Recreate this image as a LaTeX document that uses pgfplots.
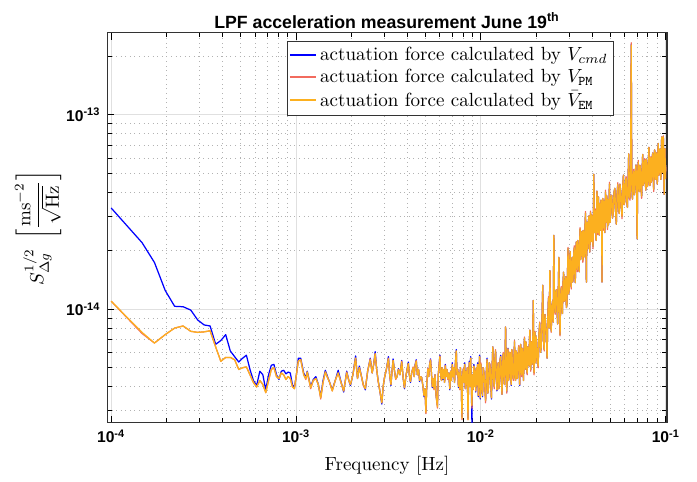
\documentclass[border=0pt]{standalone}
\usepackage{fontspec}
\setsansfont{Liberation Sans}
\usepackage{pgfplots}
\usepackage{pgfplotstable}
\pgfplotsset{compat=1.18}
\definecolor{mblue}{rgb}{0,0,1}
\definecolor{mred}{rgb}{0.95,0.42,0.37}
\definecolor{morange}{rgb}{0.99,0.69,0.12}
% values in units of 1e-15 m s^-2 / sqrt(Hz)
\pgfplotstableread{
f b r o
1.00e-4 33.2 11.0 11.0
1.47e-4 22.0 7.5 7.6
1.715e-4 17.4 6.7 6.7
1.96e-4 12.5 7.4 7.4
2.205e-4 10.35 8.0 8.0
2.45e-4 10.3 8.2 8.2
2.695e-4 9.9 7.7 7.7
2.94e-4 8.8 7.6 7.6
3.185e-4 8.3 7.65 7.65
3.43e-4 8.2 7.75 7.75
3.675e-4 6.6 6.4 6.4
3.92e-4 6.9 5.4 5.4
4.165e-4 7.4 5.65 5.65
4.41e-4 6.1 5.65 5.65
4.655e-4 5.7 5.5 5.5
4.9e-4 5.35 4.9 4.9
5.145e-4 5.6 5.0 5.0
5.39e-4 5.8 5.05 5.05
5.635e-4 4.9 4.6 4.6
5.88e-4 4.3 4.2 4.2
6.125e-4 4.05 3.98 3.98
6.37e-4 4.8 4.3 4.3
6.615e-4 4.6 4.1 4.1
6.86e-4 3.85 3.72 3.72
7.105e-4 4.6 4.3 4.3
7.35e-4 5.15 4.9 4.9
7.595e-4 5.2 5.0 5.0
7.84e-4 4.6 4.5 4.5
8.085e-4 4.35 4.4 4.4
8.33e-4 4.8 4.7 4.7
8.575e-4 4.85 4.6 4.6
8.82e-4 4.65 4.35 4.35
9.065e-4 4.75 4.5 4.5
9.31e-4 4.7 4.4 4.4
9.555e-4 4.1 4.0 4.0
9.8e-4 3.95 3.9 3.9
1.0045e-3 4.6 4.6 4.6
1.029e-3 5.6 5.4 5.4
1.06e-3 5.6 5.5 5.5
1.10e-3 4.7 4.6 4.6
1.13e-3 4.45 4.35 4.4
1.15e-3 4.8 4.75 4.75
1.20e-3 4.0 3.9 3.95
1.24e-3 4.35 4.3 4.3
1.28e-3 4.5 4.4 4.4
1.32e-3 4.1 4.1 4.1
1.36e-3 3.55 3.45 3.5
1.40e-3 4.3 4.2 4.2
1.44e-3 4.85 4.75 4.75
1.48e-3 4.5 4.45 4.45
1.52e-3 4.2 4.2 4.2
1.57e-3 3.85 3.8 3.8
1.63e-3 4.3 4.3 4.3
1.69e-3 4.85 4.7 4.7
1.75e-3 4.25 4.2 4.2
1.81e-3 3.75 3.8 3.8
1.88e-3 4.8 4.75 4.7
1.93e-3 4.3 4.3 4.3
1.97e-3 4.05 4.1 4.1
2.03e-3 4.6 4.6 4.6
2.10e-3 5.75 5.6 5.6
2.15e-3 4.4 4.4 4.4
2.20e-3 5.1 5.0 5.0
2.26e-3 4.5 4.5 4.5
2.31e-3 4.1 4.05 4.1
2.37e-3 3.85 3.9 3.9
2.44e-3 4.8 4.8 4.8
2.52e-3 5.6 5.55 5.5
2.58e-3 4.7 4.7 4.7
2.63e-3 5.2 5.2 5.2
2.68e-3 6.05 5.9 5.9
2.73e-3 4.9 4.9 4.9
2.78e-3 4.3 4.25 4.3
2.84e-3 3.8 3.8 3.8
2.91e-3 3.25 3.3 3.3
2.96e-3 4.0 4.0 4.0
3.01e-3 4.45 4.45 4.45
3.08e-3 4.9 4.9 4.9
3.16e-3 5.7 5.6 5.55
3.21e-3 4.6 4.6 4.6
3.26e-3 4.05 4.1 4.1
3.30e-3 4.7 4.7 4.7
3.35e-3 5.55 5.45 5.45
3.40e-3 4.9 4.9 4.9
3.46e-3 4.4 4.35 4.4
3.52e-3 4.5 4.5 4.5
3.58e-3 4.95 4.9 4.9
3.65e-3 4.6 4.6 4.6
3.73e-3 5.45 5.4 5.35
3.80e-3 4.4 4.4 4.4
3.86e-3 3.9 3.95 3.95
3.94e-3 4.6 4.6 4.6
4.05e-3 5.35 5.25 5.25
4.10e-3 4.6 4.6 4.6
4.16e-3 4.2 4.25 4.25
4.22e-3 4.7 4.7 4.7
4.30e-3 5.0 5.05 5.0
4.36e-3 4.5 4.5 4.5
4.40e-3 5.15 5.1 5.1
4.47e-3 5.5 5.45 5.4
4.53e-3 4.6 4.6 4.6
4.60e-3 4.9 4.9 4.9
4.66e-3 4.25 4.3 4.3
4.72e-3 4.5 4.5 4.5
4.78e-3 4.45 4.45 4.45
4.86e-3 4.0 4.0 4.0
4.92e-3 3.55 3.6 3.6
4.98e-3 3.9 3.9 3.9
5.04e-3 3.0 2.9 2.95
5.10e-3 4.2 4.2 4.2
5.16e-3 4.9 4.95 4.9
5.22e-3 4.5 4.5 4.5
5.28e-3 5.2 5.2 5.2
5.34e-3 5.55 5.5 5.45
5.40e-3 4.7 4.7 4.7
5.46e-3 3.95 4.0 4.0
5.52e-3 4.4 4.4 4.4
5.58e-3 3.9 3.85 3.9
5.65e-3 4.6 4.6 4.6
5.72e-3 3.6 3.6 3.6
5.82e-3 3.2 3.1 3.15
5.88e-3 4.6 4.6 4.6
6.00e-3 5.8 5.75 5.7
6.06e-3 4.6 4.6 4.6
6.12e-3 4.3 4.3 4.3
6.18e-3 5.0 5.0 5.0
6.24e-3 4.35 4.4 4.4
6.30e-3 4.9 4.9 4.9
6.36e-3 4.2 4.2 4.2
6.42e-3 5.2 5.15 5.1
6.48e-3 4.5 4.5 4.5
6.55e-3 4.9 4.9 4.9
6.62e-3 4.4 4.35 4.4
6.70e-3 4.7 4.7 4.7
6.79e-3 3.85 3.9 3.9
6.86e-3 4.8 4.8 4.8
6.93e-3 4.3 4.3 4.3
7.00e-3 5.3 5.2 5.2
7.06e-3 4.5 4.5 4.5
7.13e-3 5.0 5.0 5.0
7.20e-3 4.2 4.2 4.2
7.28e-3 5.3 5.35 5.3
7.36e-3 6.2 6.1 6.1
7.42e-3 4.6 4.6 4.6
7.50e-3 4.9 4.9 4.9
7.56e-3 3.95 4.0 4.0
7.62e-3 4.7 4.7 4.7
7.68e-3 3.9 3.85 3.9
7.75e-3 5.0 5.0 5.0
7.82e-3 4.3 4.3 4.3
7.90e-3 2.8 2.7 2.75
7.96e-3 4.5 4.5 4.5
8.03e-3 4.9 4.95 4.9
8.10e-3 4.2 4.2 4.2
8.17e-3 5.3 5.2 5.2
8.24e-3 3.9 3.9 3.9
8.31e-3 4.8 4.8 4.8
8.38e-3 4.1 4.05 4.1
8.44e-3 5.0 5.0 5.0
8.51e-3 2.75 2.7 2.7
8.58e-3 4.3 4.3 4.3
8.65e-3 5.4 5.3 5.3
8.72e-3 4.0 4.0 4.0
8.80e-3 5.7 5.6 5.6
8.87e-3 4.2 4.2 4.2
8.94e-3 2.6 3.1 3.2
9.01e-3 4.6 4.6 4.6
9.08e-3 3.9 3.85 3.9
9.16e-3 5.2 5.1 5.1
9.23e-3 4.0 4.0 4.0
9.30e-3 4.8 4.85 4.8
9.38e-3 3.75 3.8 3.8
9.45e-3 5.0 5.0 5.0
9.53e-3 4.1 4.1 4.1
9.60e-3 5.3 5.2 5.2
9.68e-3 3.55 3.6 3.6
9.76e-3 4.9 4.9 4.9
9.84e-3 5.8 5.7 5.7
9.92e-3 3.45 3.5 3.5
0.0100 5.2 5.3 5.2
0.0101 4.1 4.1 4.1
0.0102 3.55 3.6 3.6
0.0103 5.0 5.0 5.0
0.0104 4.65 4.65 4.65
0.0105 4.0 4.0 4.0
0.0106 3.4 3.3 3.4
0.0107 4.8 4.8 4.8
0.0108 5.6 5.5 5.5
0.0109 3.7 3.7 3.7
0.0110 4.0 4.0 4.0
0.0111 5.3 5.3 5.3
0.0112 5.1 5.2 5.1
0.0113 4.2 4.2 4.2
0.0114 3.45 3.5 3.5
0.0115 5.0 5.0 5.0
0.0116 6.4 6.4 6.4
0.0117 4.4 4.4 4.4
0.0118 4.0 3.9 4.0
0.0119 5.4 5.4 5.4
0.0120 6.1 6.2 6.1
0.0121 4.6 4.6 4.6
0.0122 3.8 3.85 3.85
0.0123 4.9 4.9 4.9
0.0124 5.3 5.3 5.3
0.0125 3.9 3.9 3.9
0.0126 4.3 4.2 4.3
0.0127 5.5 5.5 5.5
0.0128 5.8 5.7 5.7
0.0129 4.4 4.4 4.4
0.0130 3.65 3.65 3.65
0.0131 5.1 5.1 5.1
0.0132 5.9 6.0 5.9
0.0133 4.5 4.5 4.5
0.0134 4.1 4.1 4.1
0.0135 5.6 5.6 5.6
0.0136 8.1 8.1 8.1
0.0137 4.8 4.8 4.8
0.0138 3.75 3.7 3.8
0.0139 5.3 5.3 5.3
0.0140 6.3 6.25 6.25
0.0141 4.3 4.3 4.3
0.0142 4.5 4.5 4.5
0.0143 6.0 6.0 6.0
0.0144 5.9 6.0 5.9
0.0145 4.4 4.4 4.4
0.0146 4.05 4.1 4.1
0.0147 6.2 6.2 6.2
0.0148 5.2 5.2 5.2
0.0149 4.7 4.7 4.7
0.0150 4.4 4.3 4.4
0.0151 5.6 5.6 5.6
0.0152 6.8 6.9 6.8
0.0153 4.6 4.6 4.6
0.0154 4.3 4.3 4.3
0.0155 6.1 6.1 6.1
0.0156 5.9 5.9 5.9
0.0157 4.4 4.4 4.4
0.0158 4.9 4.8 4.9
0.0159 5.7 5.7 5.7
0.0160 6.4 6.5 6.4
0.0161 4.7 4.7 4.7
0.0162 4.05 4.1 4.1
0.0163 5.5 5.5 5.5
0.0164 6.6 6.6 6.6
0.0165 5.0 5.0 5.0
0.0166 4.6 4.5 4.6
0.0167 6.3 6.3 6.3
0.0168 5.9 5.9 5.9
0.0169 4.8 4.8 4.8
0.0170 4.3 4.3 4.3
0.0171 6.0 6.0 6.0
0.0172 7.1 7.2 7.1
0.0173 4.9 4.9 4.9
0.0174 5.1 5.1 5.1
0.0175 6.8 6.8 6.8
0.0176 6.6 6.6 6.6
0.0177 5.0 5.0 5.0
0.0178 4.65 4.6 4.7
0.0179 6.4 6.4 6.4
0.0180 6.0 6.1 6.0
0.0181 5.3 5.3 5.3
0.0182 5.1 5.1 5.1
0.0183 6.9 6.9 6.9
0.0184 7.8 7.8 7.8
0.0185 5.4 5.4 5.4
0.0186 4.9 4.8 4.9
0.0187 6.5 6.5 6.5
0.0188 6.8 6.8 6.8
0.0189 5.2 5.2 5.2
0.0190 5.6 5.6 5.6
0.0191 7.3 7.3 7.3
0.0192 11.1 11.1 11.1
0.0193 5.6 5.6 5.6
0.0194 4.7 4.6 4.7
0.0195 6.9 6.9 6.9
0.0196 7.6 7.7 7.6
0.0197 5.8 5.8 5.8
0.0198 5.3 5.3 5.3
0.0199 7.2 7.2 7.2
0.0200 6.9 6.9 6.9
0.0202 5.6 5.6 5.6
0.0204 5.1 5.0 5.1
0.0206 7.4 7.4 7.4
0.0208 8.5 8.6 8.5
0.0210 6.0 6.0 6.0
0.0212 6.4 6.4 6.4
0.0214 8.9 8.9 8.9
0.0216 13.3 13.3 13.3
0.0218 7.0 7.0 7.0
0.0220 6.2 6.1 6.2
0.0222 9.4 9.4 9.4
0.0224 8.4 8.4 8.4
0.0226 7.4 7.4 7.4
0.0228 5.6 5.6 5.6
0.0230 9.0 9.0 9.0
0.0232 11.4 11.6 11.4
0.0234 8.0 8.0 8.0
0.0236 15.8 15.8 15.8
0.0238 9.3 9.3 9.3
0.0240 7.7 7.6 7.7
0.0242 10.2 10.2 10.2
0.0244 11.0 11.0 11.0
0.0246 8.6 8.6 8.6
0.0248 24 24 24
0.0250 10.8 10.8 10.8
0.0252 9.6 9.4 9.6
0.0254 12.0 12.0 12.0
0.0256 12.6 12.6 12.6
0.0258 9.9 9.9 9.9
0.0260 8.4 8.4 8.4
0.0262 12.2 12.2 12.2
0.0264 18.5 18.5 18.5
0.0266 10.4 10.4 10.4
0.0268 7.4 7.3 7.4
0.0270 11.6 11.6 11.6
0.0272 12.9 13.1 12.9
0.0274 10.8 10.8 10.8
0.0276 9.5 9.5 9.5
0.0278 13.6 13.6 13.6
0.0280 15.5 15.5 15.5
0.0282 11.0 11.0 11.0
0.0284 11.3 11.1 11.3
0.0286 14.0 14.0 14.0
0.0288 14.7 14.7 14.7
0.0290 10.2 10.2 10.2
0.0292 10.6 10.6 10.6
0.0294 15.4 15.4 15.4
0.0296 20.5 20.8 20.5
0.0298 12.0 12.0 12.0
0.0300 12.5 12.5 12.5
0.0302 17.0 17.0 17.0
0.0304 19.8 19.8 19.8
0.0306 14.0 14.0 14.0
0.0308 13.0 12.7 13.0
0.0310 17.6 17.6 17.6
0.0312 18.5 18.5 18.5
0.0314 13.8 13.8 13.8
0.0316 15.6 15.6 15.6
0.0318 19.4 19.4 19.4
0.0320 20.7 21.2 20.7
0.0322 15.4 15.4 15.4
0.0324 13.7 13.7 13.7
0.0326 19.9 19.9 19.9
0.0328 22.2 22.2 22.2
0.0330 17.0 17.0 17.0
0.0332 16.0 15.6 16.0
0.0334 22.6 22.6 22.6
0.0336 21.2 21.2 21.2
0.0338 17.2 17.2 17.2
0.0340 15.6 15.6 15.6
0.0342 22.0 22.0 22.0
0.0344 25.8 26.3 25.8
0.0346 18.0 18.0 18.0
0.0348 19.1 19.1 19.1
0.0350 24.0 24.0 24.0
0.0352 25.1 25.1 25.1
0.0354 19.6 19.6 19.6
0.0356 17.9 17.4 17.9
0.0358 25.4 25.4 25.4
0.0360 23.5 23.5 23.5
0.0362 18.6 18.6 18.6
0.0364 20.2 20.2 20.2
0.0366 27.2 27.2 27.2
0.0368 31.2 31.8 31.2
0.0370 21.0 21.0 21.0
0.0372 13.8 13.8 13.8
0.0374 24.4 24.4 24.4
0.0376 28.0 28.0 28.0
0.0378 20.4 20.4 20.4
0.0380 23.3 22.7 23.3
0.0382 28.8 28.8 28.8
0.0384 30.2 30.2 30.2
0.0386 22.0 22.0 22.0
0.0388 19.7 19.7 19.7
0.0390 27.4 27.4 27.4
0.0392 31.4 32.0 31.4
0.0394 24.6 24.6 24.6
0.0396 22.3 22.3 22.3
0.0398 30.5 30.5 30.5
0.0400 28.9 28.9 28.9
0.0402 23.6 23.6 23.6
0.0404 21.1 20.5 21.1
0.0406 29.0 29.0 29.0
0.0408 49.5 49.5 49.5
0.0410 25.5 25.5 25.5
0.0412 24.8 24.8 24.8
0.0414 31.0 31.0 31.0
0.0416 32.1 32.8 32.1
0.0418 25.8 25.8 25.8
0.0420 22.6 22.6 22.6
0.0422 30.4 30.4 30.4
0.0424 40.5 40.5 40.5
0.0426 27.0 27.0 27.0
0.0428 24.8 24.2 24.8
0.0430 33.4 33.4 33.4
0.0432 37.8 37.8 37.8
0.0434 26.2 26.2 26.2
0.0436 24.1 24.1 24.1
0.0438 35.0 35.0 35.0
0.0440 33.3 34.0 33.3
0.0442 25.5 25.5 25.5
0.0444 27.6 27.6 27.6
0.0446 36.4 36.4 36.4
0.0448 35.8 35.8 35.8
0.0450 26.0 26.0 26.0
0.0452 13.8 13.8 13.8
0.0454 31.5 31.5 31.5
0.0456 37.1 37.1 37.1
0.0458 28.4 28.4 28.4
0.0460 26.2 25.5 26.2
0.0462 36.0 36.0 36.0
0.0464 34.0 34.0 34.0
0.0466 27.8 27.8 27.8
0.0468 24.8 24.8 24.8
0.0470 33.6 33.6 33.6
0.0472 40.1 41.0 40.1
0.0474 28.0 28.0 28.0
0.0476 29.2 29.2 29.2
0.0478 38.5 38.5 38.5
0.0480 37.6 37.6 37.6
0.0482 29.5 29.5 29.5
0.0484 26.4 25.7 26.4
0.0486 36.6 36.6 36.6
0.0488 34.0 34.0 34.0
0.0490 27.2 27.2 27.2
0.0492 28.9 28.9 28.9
0.0494 38.0 38.0 38.0
0.0496 44.1 45.0 44.1
0.0498 31.0 31.0 31.0
0.0500 28.0 28.0 28.0
0.0505 37.0 37.0 37.0
0.051 38.6 38.6 38.6
0.0515 29.5 29.5 29.5
0.052 32.2 31.4 32.2
0.0525 40.0 40.0 40.0
0.053 41.9 41.9 41.9
0.0535 31.8 31.8 31.8
0.054 27.4 27.4 27.4
0.0545 39.0 39.0 39.0
0.055 43.8 44.8 43.8
0.0555 33.5 33.5 33.5
0.056 31.1 31.1 31.1
0.0565 44.0 44.0 44.0
0.057 40.8 40.8 40.8
0.0575 33.0 33.0 33.0
0.058 30.0 29.2 30.0
0.0585 42.5 42.5 42.5
0.059 49.0 49.0 49.0
0.0595 34.5 34.5 34.5
0.060 36.0 36.0 36.0
0.0605 46.0 46.0 46.0
0.061 47.2 48.2 47.2
0.0615 36.2 36.2 36.2
0.062 33.4 33.4 33.4
0.0625 45.0 45.0 45.0
0.063 63 63 63
0.0635 38.0 38.0 38.0
0.064 37.3 36.4 37.3
0.0645 47.0 47.0 47.0
0.065 230 235 228
0.0655 44.0 44.0 44.0
0.066 36.9 36.9 36.9
0.0665 47.5 47.5 47.5
0.067 51.3 52.4 51.3
0.0675 38.8 38.8 38.8
0.068 42.6 42.6 42.6
0.0685 52.0 52.0 52.0
0.069 55.2 55.2 55.2
0.0695 40.0 40.0 40.0
0.070 23 23 23
0.0705 50.0 50.0 50.0
0.071 57.1 58.3 57.1
0.0715 42.4 42.4 42.4
0.072 40.3 40.3 40.3
0.0725 55.0 55.0 55.0
0.073 52.4 52.4 52.4
0.0735 42.0 42.0 42.0
0.074 38.2 37.2 38.2
0.0745 52.5 52.5 52.5
0.075 62.5 62.5 62.5
0.0755 43.5 43.5 43.5
0.076 45.4 45.4 45.4
0.0765 57.0 57.0 57.0
0.077 58.4 59.6 58.4
0.0775 44.6 44.6 44.6
0.078 41.0 41.0 41.0
0.0785 59.0 59.0 59.0
0.079 52.6 52.6 52.6
0.0795 42.8 42.8 42.8
0.080 44.7 43.6 44.7
0.0805 57.6 57.6 57.6
0.081 68.1 68.1 68.1
0.0815 47.5 47.5 47.5
0.082 43.3 43.3 43.3
0.0825 60.4 60.4 60.4
0.083 59.6 60.8 59.6
0.0835 45.0 45.0 45.0
0.084 49.3 49.3 49.3
0.0845 61.0 61.0 61.0
0.085 63.7 63.7 63.7
0.0855 48.2 48.2 48.2
0.086 41.4 40.3 41.4
0.0865 59.5 59.5 59.5
0.087 66 66 66
0.0875 50.0 50.0 50.0
0.088 46.6 46.6 46.6
0.0885 64.0 64.0 64.0
0.089 60.5 61.8 60.5
0.0895 48.4 48.4 48.4
0.090 44.1 44.1 44.1
0.0905 62.0 62.0 62.0
0.091 71.3 71.3 71.3
0.0915 49.0 49.0 49.0
0.092 51.8 50.5 51.8
0.0925 65.5 65.5 65.5
0.093 66.7 66.7 66.7
0.0935 50.5 50.5 50.5
0.094 46.6 46.6 46.6
0.0945 63.0 63.0 63.0
0.095 77 77 77
0.0955 52.0 52.0 52.0
0.096 50.7 50.7 50.7
0.0965 66.0 66.0 66.0
0.097 77 78 77
0.0975 54.0 54.0 54.0
0.098 39 39 39
0.0985 60.0 60.0 60.0
0.099 67 67 67
0.0995 47.0 47.0 47.0
0.100 55.2 54 55.2
}\data

\begin{document}
\begin{tikzpicture}
\begin{axis}[
  xmode=log, ymode=log,
  scale only axis, width=294pt, height=204.75pt,
  xmin=9.5e-5, xmax=0.1015, ymin=2.6, ymax=264,
  xtick={1e-4,1e-3,1e-2,1e-1},
  xticklabels={10\textsuperscript{-4},10\textsuperscript{-3},10\textsuperscript{-2},10\textsuperscript{-1}},
  ytick={10,100},
  yticklabels={10\textsuperscript{-14},10\textsuperscript{-13}},
  minor xtick={2e-4,3e-4,4e-4,5e-4,6e-4,7e-4,8e-4,9e-4,2e-3,3e-3,4e-3,5e-3,6e-3,7e-3,8e-3,9e-3,2e-2,3e-2,4e-2,5e-2,6e-2,7e-2,8e-2,9e-2},
  minor ytick={3,4,5,6,7,8,9,20,30,40,50,60,70,80,90,200},
  ticklabel style={font=\sffamily\bfseries\fontsize{8.2}{9}\selectfont},
  grid=both,
  major grid style={draw=black!12, line width=0.5pt},
  minor grid style={draw=black!30, dotted, line width=0.45pt},
  major tick length=3.7pt, minor tick length=2.4pt,
  tick style={black, line width=0.5pt},
  axis line style={black!80, line width=0.55pt},
  title={LPF acceleration measurement June 19\textsuperscript{th}},
  every axis title shift=0pt,
  title style={font=\sffamily\bfseries\fontsize{9.3}{10}\selectfont, inner sep=2pt},
  xlabel={Frequency [Hz]},
  ylabel={$\displaystyle S_{\Delta g}^{1/2}\ \left[\frac{\mathrm{ms}^{-2}}{\sqrt{\mathrm{Hz}}}\right]$},
  ylabel style={at={(axis description cs:-0.123,0.5)}, anchor=center},
  label style={font=\fontsize{10}{12}\selectfont},
  legend style={at={(0.905,0.98)}, anchor=north east, draw=black!80, line width=0.5pt,
    font=\fontsize{10}{12}\selectfont, inner sep=1pt, row sep=-1pt},
  legend cell align=left,
  legend image code/.code={\draw[#1, line width=0.8pt] (0pt,0pt) -- (13.5pt,0pt);},
  every axis plot/.append style={line width=0.65pt, line join=round},
]
\addplot[mblue] table[x=f, y=b] {\data};
\addlegendentry{actuation force calculated by $V_{cmd}$}
\addplot[mred] table[x=f, y=r] {\data};
\addlegendentry{actuation force calculated by $V_{\mathtt{PM}}$}
\addplot[morange] table[x=f, y=o] {\data};
\addlegendentry{actuation force calculated by $\bar{V}_{\mathtt{EM}}$}
\end{axis}
\path ([xshift=-56.2pt,yshift=-27.3pt]current axis.south west) rectangle ([xshift=15.75pt,yshift=17.3pt]current axis.north east);
\end{tikzpicture}
\end{document}
